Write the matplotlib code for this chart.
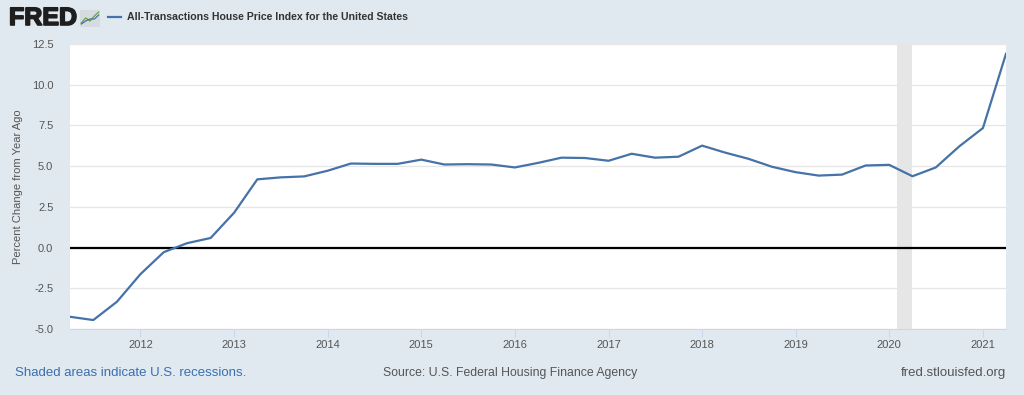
"""FRED chart: All-Transactions House Price Index, percent change from year ago."""

import matplotlib
matplotlib.use("Agg")
from matplotlib import pyplot as plt
from matplotlib import patheffects
import matplotlib.dates as mdates
import pandas as pd

# Quarterly observations (quarter start dates).
DATES = pd.date_range("2011-04-01", "2021-04-01", freq="QS")
VALUES = [
    -4.25, -4.45, -3.33,
    -1.63, -0.28, 0.27, 0.59,
    2.15, 4.19, 4.31, 4.37,
    4.72, 5.16, 5.14, 5.14,
    5.40, 5.10, 5.12, 5.10,
    4.92, 5.20, 5.52, 5.50,
    5.33, 5.76, 5.52, 5.58,
    6.26, 5.83, 5.45, 4.96,
    4.63, 4.42, 4.48, 5.04,
    5.08, 4.38, 4.92, 6.22,
    7.34, 11.90,
]
Y_TICKS = [-5.0, -2.5, 0.0, 2.5, 5.0, 7.5, 10.0, 12.5]
RECESSION = ("2020-02-01", "2020-04-01")

BG = "#e1e9f0"
LINE = "#4572a7"
TEXT = "#555555"
SANS = ["Liberation Sans", "DejaVu Sans"]


def _main():
    fig = plt.figure(figsize=(10.24, 3.95), dpi=100, facecolor=BG)
    ax = fig.add_axes([70 / 1024, 1 - 329 / 395, 936 / 1024, 285 / 395])
    ax.set_facecolor("white")

    ax.axvspan(pd.Timestamp(RECESSION[0]), pd.Timestamp(RECESSION[1]),
               color="#e6e6e6", lw=0, zorder=1)
    for y in Y_TICKS:
        ax.axhline(y, color="#e6e6e6", lw=0.9, zorder=0)
    ax.axhline(0, color="black", lw=1.6, zorder=2)
    ax.plot(DATES, VALUES, color=LINE, lw=1.6, zorder=3)

    ax.set_xlim(DATES[0], DATES[-1])
    ax.set_ylim(-5, 12.5)
    ax.set_yticks(Y_TICKS)
    ax.set_yticklabels([f"{v:.1f}" for v in Y_TICKS], family=SANS)
    ax.xaxis.set_major_locator(mdates.YearLocator())
    ax.xaxis.set_major_formatter(mdates.DateFormatter("%Y"))
    for lab in ax.get_xticklabels():
        lab.set_family(SANS)

    for side in ("top", "right", "left"):
        ax.spines[side].set_visible(False)
    ax.spines["bottom"].set_color("#ccd6eb")
    ax.tick_params(axis="y", length=0, pad=12, labelsize=8, labelcolor=TEXT)
    ax.tick_params(axis="x", length=6, color="#ccd6eb", pad=2,
                   labelsize=8, labelcolor=TEXT)
    ax.set_ylabel("Percent Change from Year Ago", fontsize=8, color=TEXT,
                  family=SANS)
    ax.yaxis.set_label_coords(-47 / 936, 0.5)

    # Header: logo and legend.
    fred = fig.text(9 / 1024, 1 - 18 / 395, "FRED", fontsize=18, fontweight="bold",
                    color="#1e1e1e", va="center", family="Liberation Sans")
    fred.set_path_effects([patheffects.withStroke(linewidth=1.2, foreground="#1e1e1e")])
    icon = fig.add_axes([80 / 1024, 1 - 27 / 395, 20 / 1024, 17 / 395])
    icon.set_facecolor("#d5dbe0")
    icon.plot([0, 1, 2, 3, 4], [0.1, 0.6, 0.3, 0.8, 1.2], color="#6aa33a", lw=0.9)
    icon.plot([0, 1, 2, 3, 4], [0.0, 0.3, 0.5, 0.5, 0.9], color="#4572a7", lw=0.9)
    icon.set_xlim(-0.3, 4.3)
    icon.set_ylim(-0.3, 1.4)
    icon.set_xticks([])
    icon.set_yticks([])
    for sp in icon.spines.values():
        sp.set_visible(False)
    fig.add_artist(plt.Line2D([108 / 1024, 121 / 1024], [1 - 17 / 395] * 2,
                              color=LINE, lw=1.6))
    fig.text(127 / 1024, 1 - 17 / 395,
             "All-Transactions House Price Index for the United States",
             fontsize=7.6, fontweight="bold", color="#333333", va="center",
             family=SANS)

    # Footer.
    fig.text(15 / 1024, 1 - 373 / 395, "Shaded areas indicate U.S. recessions.",
             fontsize=9.5, color="#3a6fb0", va="center", family=SANS)
    fig.text(383 / 1024, 1 - 373 / 395, "Source: U.S. Federal Housing Finance Agency",
             fontsize=8.8, color="#555555", va="center", family=SANS)
    fig.text(1006 / 1024, 1 - 373 / 395, "fred.stlouisfed.org",
             fontsize=9.5, color="#555555", va="center", ha="right", family=SANS)

    fig.savefig("out.png", dpi=100, facecolor=BG)


if __name__ == "__main__":
    _main()
